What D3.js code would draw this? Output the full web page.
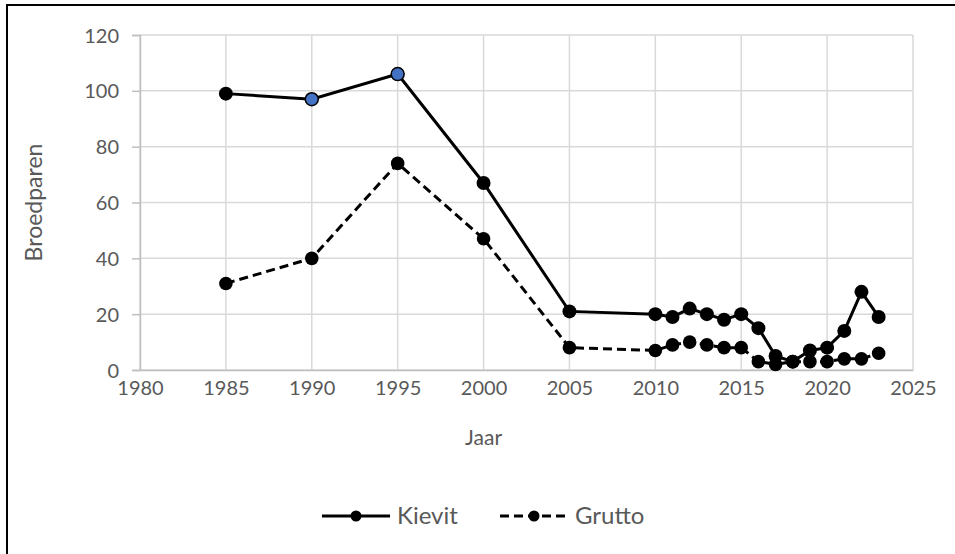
<!DOCTYPE html>
<html><head><meta charset="utf-8">
<script src="https://cdn.jsdelivr.net/npm/d3@7"></script>
<style>
html,body{margin:0;padding:0;background:#fff;}
svg{display:block;}
text{font-family:Lato,"Open Sans",sans-serif;fill:#595959;}
</style></head>
<body>
<svg id="chart" width="955" height="554"></svg>
<script>
const years = [1985,1990,1995,2000,2005,2010,2011,2012,2013,2014,2015,2016,2017,2018,2019,2020,2021,2022,2023];
const kievit = [99,97,106,67,21,20,19,22,20,18,20,15,5,3,7,8,14,28,19];
const grutto = [31,40,74,47,8,7,9,10,9,8,8,3,2,3,3,3,4,4,6];
const highlightYears = [1990,1995];
const xTicks = [1980,1985,1990,1995,2000,2005,2010,2015,2020,2025];
const yTicks = [0,20,40,60,80,100,120];
const seriesNames = ["Kievit","Grutto"];

const svg = d3.select("#chart");
const x = d3.scaleLinear().domain([1980,2025]).range([140,913]);
const y = d3.scaleLinear().domain([0,120]).range([370,35]);

// frame
svg.append("path").attr("d","M7,554 V5 H955").attr("fill","none").attr("stroke","#000").attr("stroke-width",2);

// gridlines
svg.append("g").selectAll("line").data(yTicks).join("line")
  .attr("x1",x(1980)).attr("x2",x(2025)).attr("y1",d=>y(d)).attr("y2",d=>y(d))
  .attr("stroke","#d9d9d9").attr("stroke-width",1.5);
svg.append("g").selectAll("line").data(xTicks).join("line")
  .attr("x1",d=>x(d)).attr("x2",d=>x(d)).attr("y1",y(0)).attr("y2",y(120))
  .attr("stroke","#d9d9d9").attr("stroke-width",1.5);

// axes
const yAxis = d3.axisLeft(y).tickValues(yTicks).tickSize(8).tickPadding(13);
const gy = svg.append("g").attr("transform",`translate(${x(1980)},0)`).call(yAxis);
gy.select(".domain").attr("stroke","#bfbfbf").attr("stroke-width",1.5);
gy.selectAll(".tick line").attr("stroke","#bfbfbf").attr("stroke-width",1.5);
gy.selectAll("text").style("font-size","20px").attr("fill","#595959").attr("dy","0.35em");

const xAxis = d3.axisBottom(x).tickValues(xTicks).tickFormat(d3.format("d")).tickSize(0).tickPadding(11);
const gx = svg.append("g").attr("transform",`translate(0,${y(0)})`).call(xAxis);
gx.select(".domain").attr("stroke","#bfbfbf").attr("stroke-width",1.5);
gx.selectAll("text").style("font-size","20px").attr("fill","#595959");

// axis titles
svg.append("text").attr("transform",`translate(34,${(y(0)+y(120))/2}) rotate(-90)`)
  .attr("text-anchor","middle").attr("dy","0.35em").style("font-size","23px").text("Broedparen");
svg.append("text").attr("x",x(2000)).attr("y",438).attr("dy","0.35em").attr("text-anchor","middle")
  .style("font-size","21px").text("Jaar");

// lines
const line = d3.line().x(d=>x(d[0])).y(d=>y(d[1]));
const kData = years.map((yr,i)=>[yr,kievit[i]]);
const gData = years.map((yr,i)=>[yr,grutto[i]]);

svg.append("path").datum(gData).attr("d",line).attr("fill","none")
  .attr("stroke","#000").attr("stroke-width",3).attr("stroke-dasharray","9,5");
svg.append("g").selectAll("circle").data(gData).join("circle")
  .attr("cx",d=>x(d[0])).attr("cy",d=>y(d[1])).attr("r",6.8).attr("fill","#000");

svg.append("path").datum(kData).attr("d",line).attr("fill","none")
  .attr("stroke","#000").attr("stroke-width",3);
svg.append("g").selectAll("circle").data(kData).join("circle")
  .attr("cx",d=>x(d[0])).attr("cy",d=>y(d[1])).attr("r",d=>highlightYears.includes(d[0])?6.5:7)
  .attr("fill",d=>highlightYears.includes(d[0])?"#4472C4":"#000")
  .attr("stroke","#000").attr("stroke-width",d=>highlightYears.includes(d[0])?1.5:0);

// legend
const legY = 516;
const leg = [{name:seriesNames[0],x1:322,dash:null,tx:397},{name:seriesNames[1],x1:500,dash:"9,5",tx:575}];
leg.forEach(l=>{
  svg.append("line").attr("x1",l.x1).attr("x2",l.x1+68).attr("y1",legY).attr("y2",legY)
    .attr("stroke","#000").attr("stroke-width",3).attr("stroke-dasharray",l.dash);
  svg.append("circle").attr("cx",l.x1+34).attr("cy",legY).attr("r",5.5).attr("fill","#000");
  svg.append("text").attr("x",l.tx).attr("y",legY).attr("dy","0.35em").style("font-size","24px").text(l.name);
});
</script>
</body></html>
